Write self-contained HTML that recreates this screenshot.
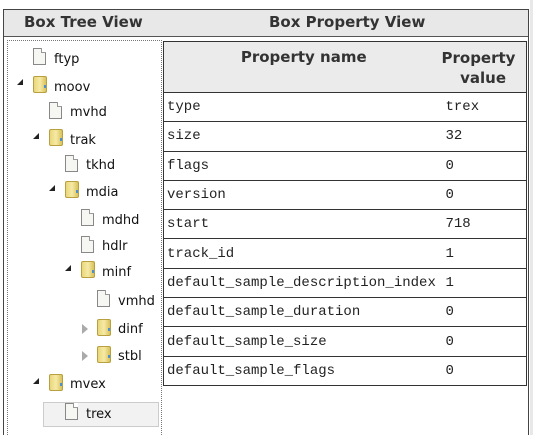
<!DOCTYPE html>
<html style="width:533px;height:435px;overflow:hidden"><head><meta charset="utf-8"><style>
*{box-sizing:border-box;margin:0;padding:0}
body{width:533px;height:435px;background:#fff;position:relative;overflow:hidden;font-family:"DejaVu Sans","Liberation Sans",sans-serif}
.outer{position:absolute;left:3px;top:9px;width:526px;height:426px;border:1px solid #444;border-bottom:none;background:#fff}
.hdr{position:absolute;left:0;top:0;width:524px;height:27px;background:#e8e8e8;border-bottom:1px solid #555}
.hdr span{position:absolute;top:3px;font-weight:bold;font-size:15px;color:#333}
.tree{position:absolute;left:7px;top:40px;width:155px;height:395px;border:1px dotted #777;border-bottom:none}
.it{position:absolute;font-size:13px;color:#111;height:20px;line-height:20px}
.doc{position:absolute;width:13px;height:17px;background:#f6f6f2;border:1px solid #888;}
.doc:after{content:"";position:absolute;right:-1px;top:-1px;width:4px;height:4px;background:#fff;border-left:1px solid #999;border-bottom:1px solid #999}
.fold{position:absolute;width:14px;height:17px;background:linear-gradient(90deg,#e9d77a,#f6eaa6 50%,#d9c25a);border:1px solid #b8a040;border-radius:2px}
.fold:after{content:"";position:absolute;right:0;top:8px;width:2px;height:3px;background:#4a90d0}
.ex{position:absolute;width:0;height:0;border-left:6px solid transparent;border-bottom:6px solid #222}
.co{position:absolute;width:0;height:0;border-top:5px solid transparent;border-bottom:5px solid transparent;border-left:6px solid #aaa}
.sel{position:absolute;left:43px;top:402px;width:116px;height:25px;background:#f2f2f2;border:1px solid #ccc}
table{position:absolute;left:163px;top:41px;width:363px;border-collapse:collapse;border:1.5px solid #333;table-layout:fixed}
th{background:#ebebeb;font-weight:bold;font-size:15px;color:#333;height:51px;vertical-align:top;padding-top:6px;border-bottom:1.5px solid #333}
td{font-family:"Liberation Mono",monospace;font-size:14px;color:#222;height:29.3px;border-top:1.5px solid #333;padding-left:3px;white-space:nowrap;overflow:visible}
td+td{padding-left:4px}
</style></head><body>
<div class="outer">
<div class="hdr"><span style="left:20px">Box Tree View</span><span style="left:265px">Box Property View</span></div>
</div>
<div class="tree"></div>
<div class="sel"></div>
<div class="doc" style="left:33px;top:48px"></div><div class="it" style="left:54px;top:50px">ftyp</div>
<div class="ex" style="left:17px;top:79px"></div><div class="fold" style="left:33px;top:76px"></div><div class="it" style="left:54px;top:78px">moov</div>
<div class="doc" style="left:49px;top:102px"></div><div class="it" style="left:70px;top:103px">mvhd</div>
<div class="ex" style="left:33px;top:133px"></div><div class="fold" style="left:49px;top:129px"></div><div class="it" style="left:70px;top:131px">trak</div>
<div class="doc" style="left:65px;top:155px"></div><div class="it" style="left:86px;top:156px">tkhd</div>
<div class="ex" style="left:49px;top:185px"></div><div class="fold" style="left:65px;top:181px"></div><div class="it" style="left:86px;top:183px">mdia</div>
<div class="doc" style="left:81px;top:209px"></div><div class="it" style="left:102px;top:211px">mdhd</div>
<div class="doc" style="left:81px;top:236px"></div><div class="it" style="left:102px;top:237px">hdlr</div>
<div class="ex" style="left:65px;top:265px"></div><div class="fold" style="left:81px;top:261px"></div><div class="it" style="left:102px;top:263px">minf</div>
<div class="doc" style="left:97px;top:290px"></div><div class="it" style="left:118px;top:292px">vmhd</div>
<div class="co" style="left:82px;top:324px"></div><div class="fold" style="left:97px;top:319px"></div><div class="it" style="left:118px;top:320px">dinf</div>
<div class="co" style="left:82px;top:351px"></div><div class="fold" style="left:97px;top:346px"></div><div class="it" style="left:118px;top:347px">stbl</div>
<div class="ex" style="left:33px;top:378px"></div><div class="fold" style="left:49px;top:374px"></div><div class="it" style="left:70px;top:375px">mvex</div>
<div class="doc" style="left:65px;top:403px"></div><div class="it" style="left:86px;top:405px">trex</div>
<table>
<colgroup><col style="width:278px"><col style="width:85px"></colgroup>
<tr><th style="text-align:center;padding-left:2px">Property name</th><th style="text-align:right;padding-right:20px;line-height:20px">Property<br>value</th></tr>
<tr><td>type</td><td>trex</td></tr>
<tr><td>size</td><td>32</td></tr>
<tr><td>flags</td><td>0</td></tr>
<tr><td>version</td><td>0</td></tr>
<tr><td>start</td><td>718</td></tr>
<tr><td>track_id</td><td>1</td></tr>
<tr><td>default_sample_description_index</td><td>1</td></tr>
<tr><td>default_sample_duration</td><td>0</td></tr>
<tr><td>default_sample_size</td><td>0</td></tr>
<tr><td>default_sample_flags</td><td>0</td></tr>
</table>
<div style="position:absolute;left:530px;top:0;width:3px;height:435px;background:#e8e8e8"></div>
</body></html>
